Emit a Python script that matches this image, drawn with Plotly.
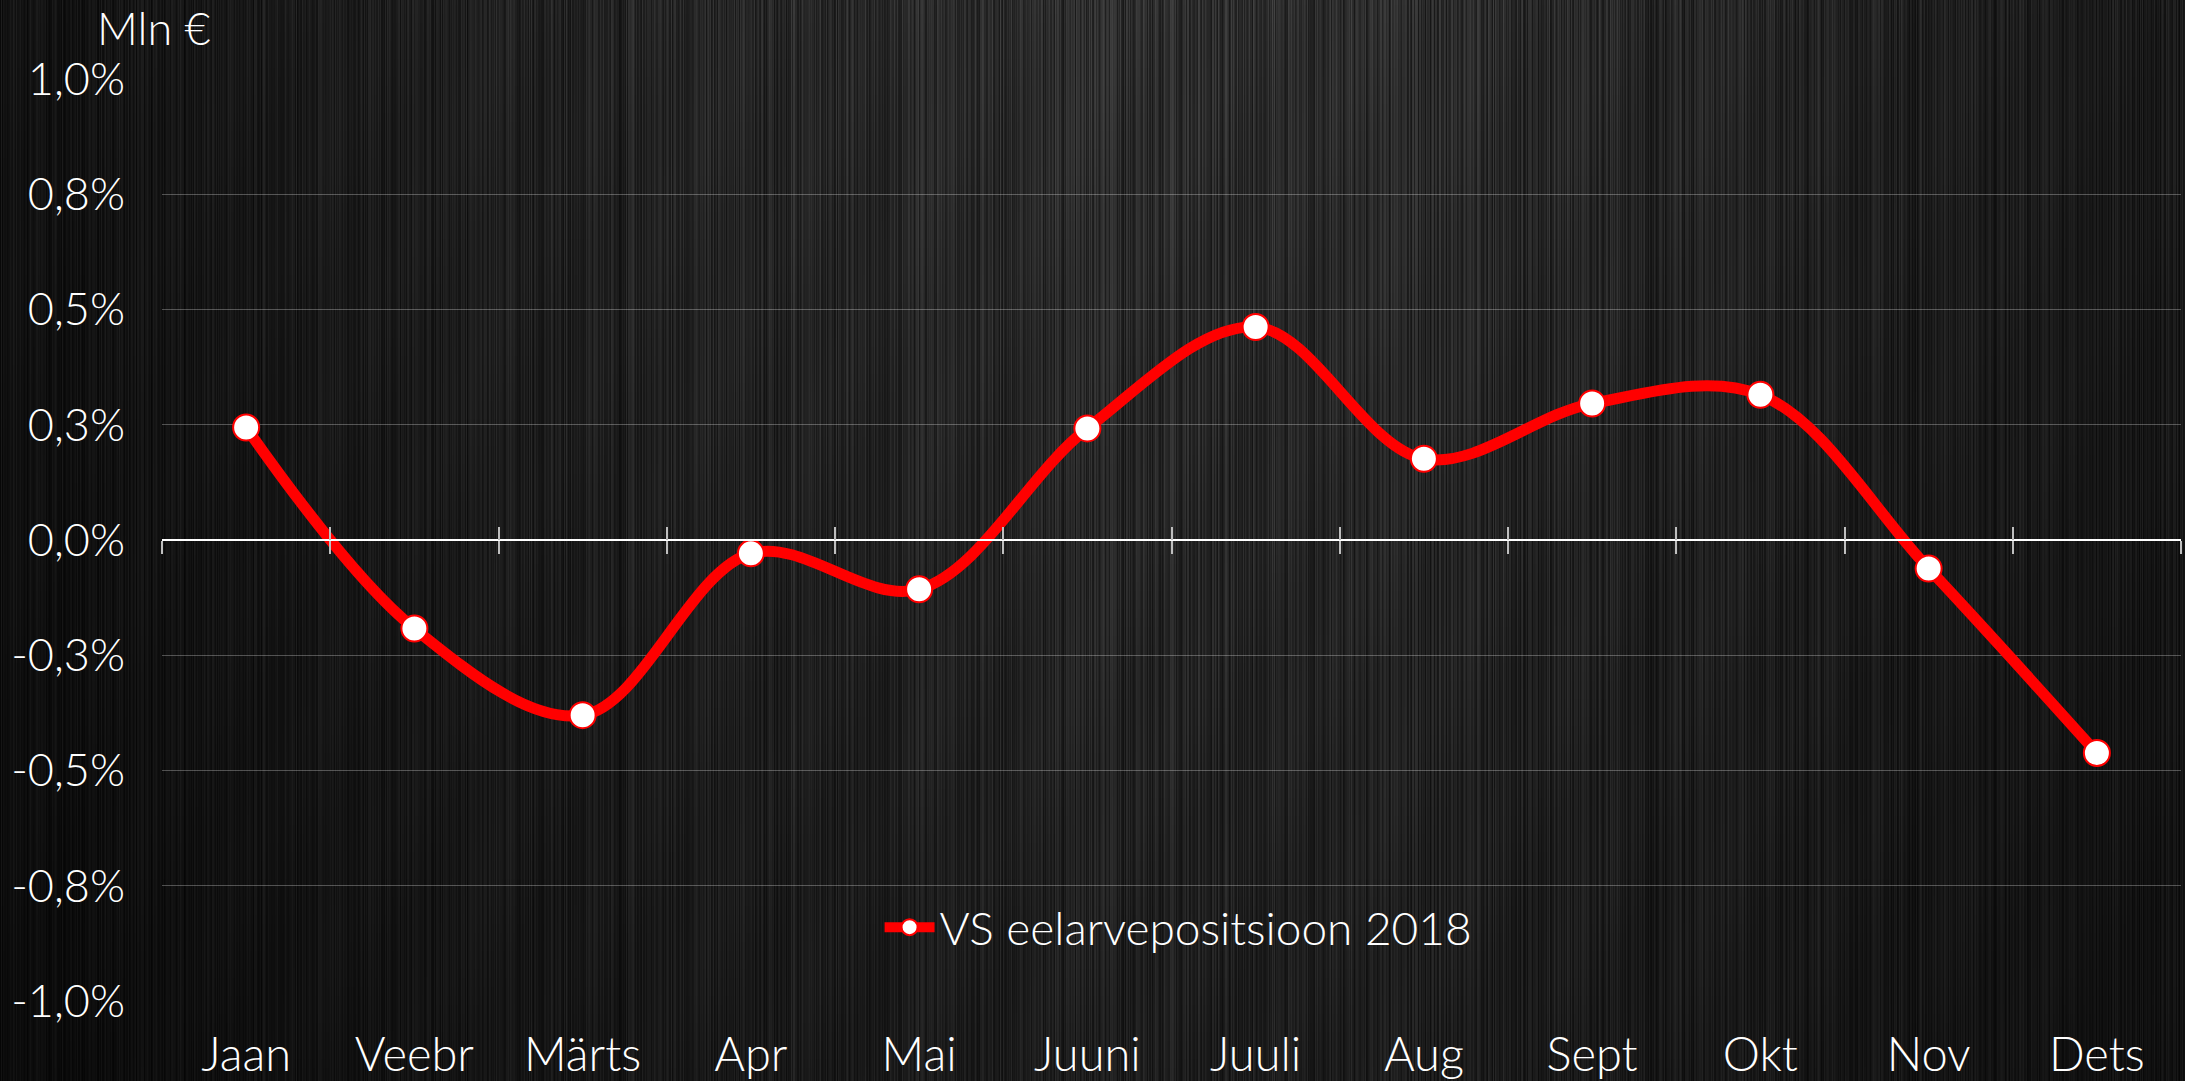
import base64, zlib, struct
import numpy as np
import plotly.graph_objects as go

# ---- data ----
months = ["Jaan", "Veebr", "Märts", "Apr", "Mai", "Juuni", "Juuli", "Aug", "Sept", "Okt", "Nov", "Dets"]
values = [0.244, -0.192, -0.380, -0.029, -0.107, 0.242, 0.462, 0.176, 0.296, 0.315, -0.062, -0.462]
series_name = "VS eelarvepositsioon 2018"
y_tickvals = [-1.0, -0.75, -0.5, -0.25, 0.0, 0.25, 0.5, 0.75, 1.0]
y_ticktext = ["-1,0%", "-0,8%", "-0,5%", "-0,3%", "0,0%", "0,3%", "0,5%", "0,8%", "1,0%"]
unit_label = "Mln €"

# ---- figure geometry ----
FW, FH = 2185, 1081
ML, MR, MT, MB = 162, 4, 79, 80
PW, PH = FW - ML - MR, FH - MT - MB

# ---- brushed-metal background texture (decorative) ----
def make_png(arr):
    h, w = arr.shape
    raw = b"".join(b"\x00" + arr[r].tobytes() for r in range(h))
    def chunk(t, d):
        c = struct.pack(">I", len(d)) + t + d
        return c + struct.pack(">I", zlib.crc32(t + d) & 0xffffffff)
    png = b"\x89PNG\r\n\x1a\n" + chunk(b"IHDR", struct.pack(">IIBBBBB", w, h, 8, 0, 0, 0, 0))
    png += chunk(b"IDAT", zlib.compress(raw, 9)) + chunk(b"IEND", b"")
    return "data:image/png;base64," + base64.b64encode(png).decode()

TW, TH = FW, 120
xs = np.linspace(0, 1, TW)
ys = np.linspace(0, 1, TH)
base_x = 12 + 30 * np.exp(-((xs - 0.55) / 0.42) ** 2)
base_x = base_x + 8 * np.clip(xs - 0.75, 0, 1)
base_y = 1.08 - 0.40 * ys
idx = np.arange(TW)
h1 = np.sin(idx * 12.9898) * 43758.5453
streak = (h1 - np.floor(h1)) - 0.5
h2 = np.sin(idx * 78.233 + 1.7) * 24634.6345
streak2 = (h2 - np.floor(h2)) - 0.5
col = base_x * (1 + 0.8 * streak) + 8 * streak2
yy = np.arange(TH)[:, None]
h3 = np.sin(idx[None, :] * 0.913 + 0.3) * 0.5 + np.sin(yy * 0.21 + idx[None, :] * 0.051) * 0.5
img = col[None, :] * (base_y[:, None] + 0.06 * h3)
img = np.clip(img, 0, 255).astype(np.uint8)
bg_src = make_png(img)

fig = go.Figure()
fig.add_trace(go.Scatter(
    x=months, y=values, name=series_name, mode="lines+markers",
    line=dict(color="#FF0000", width=11, shape="spline", smoothing=1.0),
    marker=dict(size=26, color="#FFFFFF", line=dict(color="#FF0000", width=2)),
))
fig.add_trace(go.Scatter(x=[], y=[], xaxis="x2", showlegend=False, hoverinfo="skip"))
fig.add_trace(go.Scatter(x=[], y=[], xaxis="x3", showlegend=False, hoverinfo="skip"))

FONT = "Lato"
W8 = 300
boundaries = [i - 0.5 for i in range(len(months) + 1)]

fig.update_layout(
    width=FW, height=FH,
    margin=dict(l=ML, r=MR, t=MT, b=MB, autoexpand=False),
    paper_bgcolor="#151515", plot_bgcolor="rgba(0,0,0,0)",
    font=dict(family=FONT, size=44, color="#FFFFFF", weight=W8),
    showlegend=True,
    legend=dict(x=0.5035, y=0.08, xanchor="center", yanchor="middle",
                orientation="h", bgcolor="rgba(0,0,0,0)",
                font=dict(family=FONT, size=46, color="#FFFFFF", weight=W8), itemwidth=50),
    xaxis=dict(type="category", categoryorder="array", categoryarray=months,
               range=[-0.5, len(months) - 0.5], showgrid=False, zeroline=False,
               showline=False, ticks="", ticklabelstandoff=22, automargin=False,
               tickfont=dict(family=FONT, size=47, color="#FFFFFF", weight=W8)),
    xaxis2=dict(overlaying="x", anchor="free", position=0.5, side="bottom",
                range=[-0.5, len(months) - 0.5], tickmode="array", tickvals=boundaries,
                ticks="outside", ticklen=13, tickwidth=2, tickcolor="#BFBFBF",
                showticklabels=False, showgrid=False, zeroline=False, automargin=False,
                showline=True, linecolor="#FFFFFF", linewidth=2),
    xaxis3=dict(overlaying="x", anchor="free", position=0.5, side="bottom",
                range=[-0.5, len(months) - 0.5], tickmode="array", tickvals=boundaries,
                ticks="inside", ticklen=13, tickwidth=2, tickcolor="#BFBFBF", automargin=False,
                showticklabels=False, showgrid=False, zeroline=False, showline=False),
    yaxis=dict(range=[-1.0, 1.0], tickmode="array", tickvals=y_tickvals, ticktext=y_ticktext,
               showgrid=True, gridcolor="rgba(255,255,255,0.28)", gridwidth=1,
               zeroline=False, showline=False, ticks="", ticklabelstandoff=36, automargin=False,
               tickfont=dict(family=FONT, size=45, color="#FFFFFF", weight=W8)),
    images=[dict(source=bg_src, xref="paper", yref="paper",
                 x=-ML / PW, y=1 + MT / PH, sizex=FW / PW, sizey=FH / PH,
                 xanchor="left", yanchor="top", sizing="stretch", layer="below")],
    annotations=[dict(text=unit_label, xref="paper", yref="paper",
                      x=(154 - ML) / PW, y=1 + (MT - 28) / PH, xanchor="center", yanchor="middle",
                      showarrow=False, font=dict(family=FONT, size=45, color="#FFFFFF", weight=W8))],
)

fig.write_html("out.html", config={"displayModeBar": False},
               post_script="document.body.style.margin='0';document.body.style.overflow='hidden';document.body.style.background='#151515';")
